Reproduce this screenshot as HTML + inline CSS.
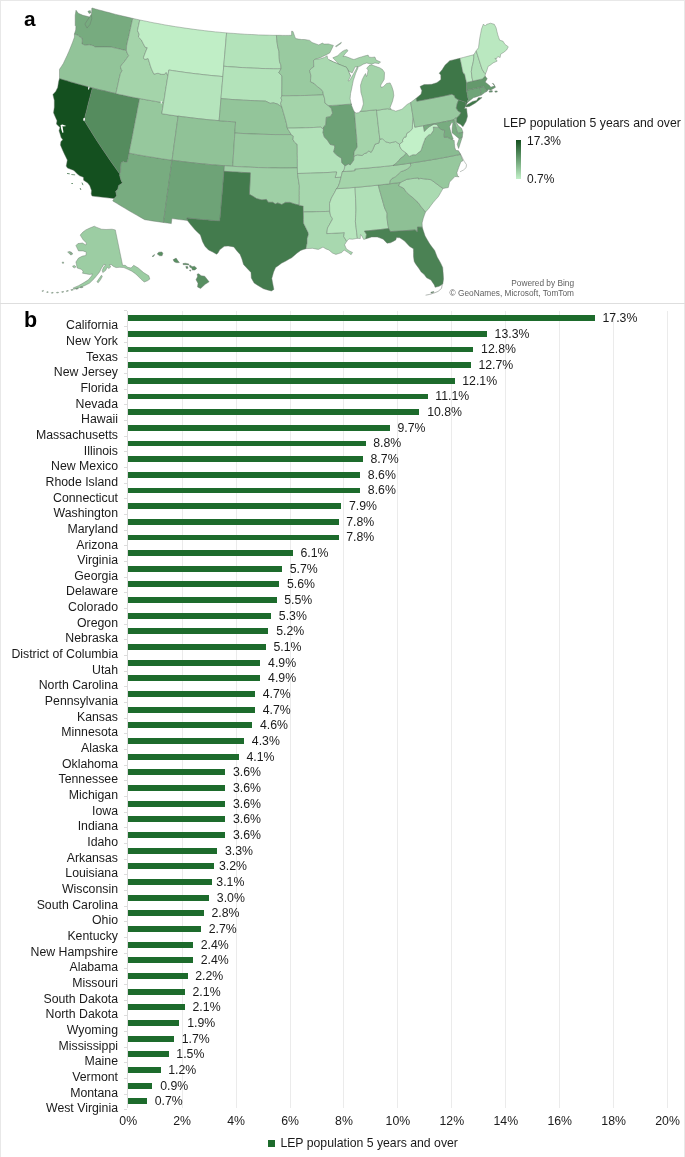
<!DOCTYPE html>
<html><head><meta charset="utf-8"><title>LEP population</title>
<style>
html,body{margin:0;padding:0;background:#fff;}
body{width:685px;height:1157px;position:relative;overflow:hidden;font-family:"Liberation Sans",sans-serif;color:#1a1a1a;}
.frame{position:absolute;left:0;top:0;width:683px;height:1160px;border:1px solid #e8e8e8;border-bottom:none;}
.sep{position:absolute;left:0;top:303px;width:685px;height:1px;background:#dedede;}
.pl{position:absolute;font-weight:bold;font-size:21.5px;line-height:21px;color:#000;}
.grid{position:absolute;top:311px;width:1px;height:797px;background:#ebebeb;}
.axis{position:absolute;top:311px;width:1px;height:797px;background:#dcdcdc;}
.tick{position:absolute;height:1px;width:3px;background:#dcdcdc;}
.bar{position:absolute;height:5.8px;background:#1d6b2c;left:128.2px;}
.lab{position:absolute;right:567px;font-size:12.3px;line-height:14px;white-space:nowrap;text-align:right;}
.val{position:absolute;font-size:12.3px;line-height:14px;white-space:nowrap;}
.xl{position:absolute;top:1114px;font-size:12.3px;line-height:14px;width:40px;margin-left:-20px;text-align:center;}
.leg{position:absolute;font-size:12.25px;line-height:14px;white-space:nowrap;}
</style></head><body>
<div id="wrap" style="position:absolute;left:0;top:0;width:685px;height:1157px;will-change:transform;">
<div class="frame"></div><div class="sep"></div>
<div class="pl" style="left:24px;top:8.0px;font-size:20.8px">a</div>
<div class="pl" style="left:24px;top:310px">b</div>

<svg width="685" height="303" viewBox="0 0 685 303" style="position:absolute;left:0;top:0">
<g stroke="#6b756d" stroke-opacity="0.85" stroke-width="0.5" stroke-linejoin="round">
<path fill="#77ab7f" d="M92.2,8.0 95.5,9.0 98.9,9.9 102.3,10.8 105.6,11.7 109.0,12.6 112.4,13.5 115.8,14.4 119.2,15.2 122.6,16.0 126.0,16.8 129.4,17.6 132.8,18.4 131.7,23.0 130.7,27.6 129.7,32.1 128.7,36.7 127.6,41.3 126.6,45.9 126.4,50.6 123.3,49.9 120.2,49.2 117.2,48.5 114.1,47.8 111.0,47.0 109.0,47.0 106.9,46.9 103.8,46.9 100.6,46.9 96.6,46.9 95.0,47.2 93.7,45.9 91.5,45.3 89.2,44.7 85.1,45.3 81.9,43.8 82.3,41.0 82.0,38.1 79.5,36.8 78.0,35.2 74.4,34.1 75.7,29.9 75.9,26.5 75.2,25.5 75.2,20.4 75.2,15.3 76.0,10.2 78.3,13.3 80.6,14.3 82.9,15.3 84.9,15.8 87.0,16.3 89.5,17.0 90.5,15.3 91.4,14.3 91.7,11.4 91.8,8.2Z"/>
<path fill="#92c499" d="M74.4,34.1 78.0,35.2 79.5,36.8 82.0,38.1 82.3,41.0 81.9,43.8 85.1,45.3 89.2,44.7 91.5,45.3 93.7,45.9 95.0,47.2 96.6,46.9 100.6,46.9 103.8,46.9 106.9,46.9 109.0,47.0 111.0,47.0 114.1,47.8 117.2,48.5 120.2,49.2 123.3,49.9 126.4,50.6 127.2,53.1 128.7,55.7 126.5,58.6 124.5,61.5 122.4,63.8 120.4,66.8 121.2,69.2 122.1,70.6 120.4,73.6 119.2,78.6 118.1,83.6 117.0,88.6 115.9,93.6 112.1,92.7 108.3,91.8 104.5,90.9 100.7,90.0 96.9,89.1 93.2,88.1 89.4,87.1 85.6,86.1 81.9,85.1 78.1,84.1 74.4,83.0 70.7,82.0 66.9,80.9 63.2,79.8 59.5,78.6 59.5,74.0 59.5,69.3 61.4,66.5 63.3,63.6 65.2,59.5 67.1,55.5 68.9,51.4 70.8,46.8 72.6,42.2 74.5,37.0Z"/>
<path fill="#14501f" d="M59.5,78.6 63.1,79.7 66.8,80.8 70.4,81.9 74.1,82.9 77.7,84.0 81.4,85.0 85.1,86.0 88.7,87.0 92.4,87.9 91.0,93.3 89.6,98.7 88.2,104.0 86.9,109.4 85.5,114.8 84.1,120.2 87.1,125.1 90.2,130.1 93.3,135.0 96.4,139.9 99.6,144.8 102.9,149.7 106.2,154.6 109.5,159.4 112.9,164.3 116.3,169.1 119.8,173.9 119.7,175.6 121.1,180.4 122.4,182.9 118.7,185.6 117.7,189.4 115.7,191.2 116.6,195.9 114.1,198.6 109.6,198.1 105.2,197.6 100.8,197.1 96.4,196.6 92.0,196.0 91.2,193.9 91.5,190.6 89.8,185.7 87.7,182.9 83.6,180.2 83.4,177.3 79.6,175.8 77.6,174.2 73.9,170.4 70.7,169.3 67.5,168.1 66.2,166.1 66.8,163.1 67.3,160.1 65.7,156.7 64.1,153.4 62.2,149.2 60.4,144.9 60.9,141.6 62.8,139.8 61.1,137.6 60.1,134.1 59.0,130.7 60.0,127.4 56.4,124.1 57.0,120.8 55.2,116.8 53.5,112.8 54.3,107.3 54.3,103.8 54.3,100.3 52.9,94.6 55.7,91.4 57.7,87.4 58.2,84.3 58.7,81.3Z"/>
<path fill="#558c5e" d="M92.4,87.9 91.0,93.3 89.6,98.7 88.2,104.0 86.9,109.4 85.5,114.8 84.1,120.2 87.1,125.1 90.2,130.1 93.3,135.0 96.4,139.9 99.6,144.8 102.9,149.7 106.2,154.6 109.5,159.4 112.9,164.3 116.3,169.1 119.8,173.9 120.6,172.4 120.7,167.3 121.0,162.8 123.4,161.6 125.0,162.5 127.4,161.8 128.2,157.5 129.1,153.1 130.1,147.6 131.2,142.2 132.3,136.7 133.3,131.3 134.4,125.8 135.4,120.3 136.5,114.9 137.5,109.4 138.6,104.0 139.7,98.5 135.7,97.8 131.7,97.0 127.8,96.2 123.8,95.3 119.9,94.5 115.9,93.6 112.0,92.7 108.1,91.8 104.2,90.8 100.2,89.9 96.3,88.9Z"/>
<path fill="#78ac80" d="M129.1,153.1 128.2,157.5 127.4,161.8 125.0,162.5 123.4,161.6 121.0,162.8 120.7,167.3 120.6,172.4 119.8,173.9 119.7,175.6 121.1,180.4 122.4,182.9 118.7,185.6 117.7,189.4 115.7,191.2 116.6,195.9 114.1,198.6 112.7,200.9 116.7,203.3 120.6,205.7 124.6,208.1 128.6,210.5 132.6,212.8 136.6,215.1 140.7,217.4 144.7,219.7 148.5,220.3 152.2,220.9 156.0,221.4 159.7,222.0 163.4,222.5 164.2,217.3 164.9,212.2 165.6,207.0 166.3,201.8 167.0,196.6 167.7,191.4 168.5,186.2 169.2,181.0 169.9,175.8 170.6,170.6 171.3,165.4 172.1,160.2 167.7,159.6 163.4,159.0 159.1,158.3 154.8,157.6 150.5,156.9 146.2,156.2 141.9,155.5 137.7,154.7 133.4,153.9Z"/>
<path fill="#96c89d" d="M139.7,98.5 143.6,99.3 147.6,100.0 151.6,100.7 155.6,101.4 159.6,102.1 163.6,102.7 162.7,108.2 161.8,113.7 165.9,114.3 170.0,115.0 174.1,115.6 178.1,116.1 177.4,121.6 176.6,127.1 175.9,132.6 175.1,138.2 174.3,143.7 173.6,149.2 172.8,154.7 172.1,160.2 167.7,159.6 163.4,159.0 159.1,158.3 154.8,157.6 150.5,156.9 146.2,156.2 141.9,155.5 137.7,154.7 133.4,153.9 129.1,153.1 130.1,147.6 131.2,142.2 132.3,136.7 133.3,131.3 134.4,125.8 135.4,120.3 136.5,114.9 137.5,109.4 138.6,104.0Z"/>
<path fill="#a4d4aa" d="M132.8,18.4 136.3,19.2 139.8,20.0 138.6,25.3 137.5,30.6 139.2,34.3 138.4,37.0 141.3,39.8 143.2,43.5 145.2,47.3 147.3,47.7 145.2,52.9 143.5,57.6 144.7,59.5 148.1,58.5 149.1,61.5 150.5,66.2 151.6,69.2 153.9,74.1 158.0,73.2 161.4,74.3 164.6,74.3 166.1,72.3 167.9,75.7 167.0,81.1 166.2,86.5 165.3,91.9 164.5,97.3 163.6,102.7 159.6,102.1 155.6,101.4 151.6,100.7 147.6,100.0 143.6,99.3 139.7,98.5 135.7,97.8 131.7,97.0 127.7,96.1 123.8,95.3 119.8,94.5 115.9,93.6 117.0,88.6 118.1,83.6 119.2,78.6 120.4,73.6 122.1,70.6 121.2,69.2 120.4,66.8 122.4,63.8 124.5,61.5 126.5,58.6 128.7,55.7 127.2,53.1 126.4,50.6 126.6,45.9 127.6,41.3 128.7,36.7 129.7,32.1 130.7,27.6 131.7,23.0Z"/>
<path fill="#c0eec6" d="M139.8,20.0 143.4,20.7 146.9,21.4 150.5,22.2 154.1,22.9 157.7,23.5 161.3,24.2 164.9,24.9 168.5,25.5 172.1,26.1 175.7,26.7 179.4,27.2 183.0,27.8 186.6,28.3 190.2,28.8 193.8,29.3 197.5,29.8 201.1,30.2 204.7,30.7 208.4,31.1 212.0,31.5 215.6,31.9 219.3,32.2 222.9,32.6 226.6,32.9 226.1,38.3 225.6,43.7 225.2,49.2 224.7,54.6 224.3,60.1 223.8,65.6 223.3,71.1 222.9,76.6 219.0,76.2 215.1,75.9 211.2,75.5 207.4,75.1 203.5,74.7 199.6,74.2 195.8,73.8 191.9,73.3 188.1,72.8 184.2,72.3 180.4,71.7 176.5,71.2 172.7,70.6 168.8,70.0 168.4,72.9 167.9,75.7 166.1,72.3 164.6,74.3 161.4,74.3 158.0,73.2 153.9,74.1 151.6,69.2 150.5,66.2 149.1,61.5 148.1,58.5 144.7,59.5 143.5,57.6 145.2,52.9 147.3,47.7 145.2,47.3 143.2,43.5 141.3,39.8 138.4,37.0 139.2,34.3 137.5,30.6 138.6,25.3Z"/>
<path fill="#b5e4bc" d="M168.8,70.0 172.7,70.6 176.5,71.2 180.4,71.7 184.2,72.3 188.1,72.8 191.9,73.3 195.8,73.8 199.6,74.2 203.5,74.7 207.4,75.1 211.2,75.5 215.1,75.9 219.0,76.2 222.9,76.6 222.4,82.1 221.9,87.6 221.5,93.1 221.0,98.6 220.5,104.1 220.1,109.6 219.6,115.2 219.1,120.7 215.0,120.3 210.9,120.0 206.8,119.6 202.7,119.1 198.6,118.7 194.5,118.2 190.4,117.7 186.3,117.2 182.2,116.7 178.1,116.1 174.1,115.6 170.0,115.0 165.9,114.3 161.8,113.7 162.7,108.2 163.6,102.7 164.5,97.3 165.3,91.8 166.2,86.3 167.1,80.9 168.0,75.4Z"/>
<path fill="#90c297" d="M178.1,116.1 182.2,116.7 186.3,117.2 190.4,117.7 194.5,118.2 198.6,118.7 202.7,119.1 206.8,119.6 210.9,120.0 215.0,120.3 219.1,120.7 223.2,121.0 227.3,121.4 231.4,121.6 235.6,121.9 235.2,127.5 234.8,133.0 234.5,138.6 234.1,144.1 233.8,149.7 233.4,155.2 233.1,160.8 232.7,166.3 228.4,166.0 224.0,165.7 219.7,165.4 215.3,165.0 211.0,164.6 206.7,164.2 202.3,163.8 198.0,163.4 193.7,162.9 189.3,162.4 185.0,161.9 180.7,161.3 176.4,160.8 172.1,160.2 172.8,154.7 173.6,149.2 174.3,143.7 175.1,138.2 175.9,132.6 176.6,127.1 177.4,121.6Z"/>
<path fill="#6ea377" d="M172.1,160.2 176.1,160.7 180.1,161.3 184.1,161.8 188.1,162.3 192.2,162.7 196.2,163.2 200.2,163.6 204.3,164.0 208.3,164.4 212.3,164.8 216.4,165.1 220.4,165.4 224.5,165.7 224.1,171.3 223.6,176.8 223.1,182.4 222.7,187.9 222.2,193.4 221.7,199.0 221.2,204.5 220.8,210.0 220.3,215.5 219.8,221.1 215.7,220.7 211.6,220.4 207.5,220.0 203.3,219.7 199.2,219.3 195.1,218.9 191.0,218.4 186.9,218.0 187.4,220.5 183.6,220.0 179.7,219.6 175.8,219.1 171.9,218.6 171.3,223.6 167.4,223.0 163.4,222.5 164.2,217.3 164.9,212.2 165.6,207.0 166.3,201.8 167.0,196.6 167.7,191.4 168.5,186.2 169.2,181.0 169.9,175.8 170.6,170.6 171.3,165.4Z"/>
<path fill="#b3e3ba" d="M226.6,32.9 230.1,33.2 233.7,33.4 237.2,33.7 240.8,33.9 244.3,34.2 247.9,34.4 251.5,34.5 255.0,34.7 258.6,34.9 262.1,35.0 265.7,35.1 269.3,35.2 272.8,35.3 276.4,35.3 276.9,40.8 277.6,46.2 279.0,51.7 279.2,57.2 279.5,61.6 280.8,64.9 281.1,68.8 277.3,68.8 273.4,68.8 269.6,68.7 265.8,68.6 262.0,68.5 258.1,68.3 254.3,68.2 250.5,68.0 246.7,67.8 242.8,67.6 239.0,67.4 235.2,67.1 231.4,66.9 227.6,66.6 223.7,66.2 224.1,61.5 224.5,56.7 225.0,51.9 225.4,47.1 225.8,42.4 226.2,37.6Z"/>
<path fill="#b3e3ba" d="M223.7,66.2 227.6,66.6 231.4,66.9 235.2,67.1 239.0,67.4 242.8,67.6 246.7,67.8 250.5,68.0 254.3,68.2 258.1,68.3 262.0,68.5 265.8,68.6 269.6,68.7 273.4,68.8 277.3,68.8 281.1,68.8 278.8,72.6 281.9,75.9 281.9,80.9 281.9,85.8 281.8,90.8 281.8,95.8 281.0,98.0 281.8,100.2 280.6,103.5 281.8,107.0 279.6,105.5 277.4,104.0 273.4,102.9 270.1,103.4 267.8,102.2 265.4,101.1 261.7,101.0 258.0,100.8 254.3,100.7 250.6,100.5 246.9,100.3 243.2,100.2 239.5,99.9 235.8,99.7 232.1,99.5 228.4,99.2 224.7,98.9 221.0,98.6 221.4,93.2 221.9,87.8 222.4,82.4 222.8,77.0 223.3,71.6Z"/>
<path fill="#93c59a" d="M221.0,98.6 224.7,98.9 228.4,99.2 232.1,99.5 235.8,99.7 239.5,99.9 243.2,100.2 246.9,100.3 250.6,100.5 254.3,100.7 258.0,100.8 261.7,101.0 265.4,101.1 267.8,102.2 270.1,103.4 273.4,102.9 277.4,104.0 279.6,105.5 281.8,107.0 283.4,112.4 285.0,118.0 286.5,123.5 287.3,128.2 289.6,131.8 291.2,134.6 287.1,134.6 283.1,134.6 279.1,134.6 275.1,134.6 271.0,134.5 267.0,134.4 263.0,134.3 259.0,134.2 254.9,134.0 250.9,133.9 246.9,133.7 242.9,133.5 238.9,133.3 234.8,133.0 235.2,127.5 235.6,121.9 231.4,121.6 227.3,121.4 223.2,121.0 219.1,120.7 219.6,115.2 220.1,109.6 220.5,104.1Z"/>
<path fill="#98c99f" d="M234.8,133.0 238.9,133.3 242.9,133.5 246.9,133.7 250.9,133.9 254.9,134.0 259.0,134.2 263.0,134.3 267.0,134.4 271.0,134.5 275.1,134.6 279.1,134.6 283.1,134.6 287.1,134.6 291.2,134.6 293.4,136.2 293.0,139.6 294.7,142.3 297.2,144.3 297.3,149.0 297.3,153.7 297.4,158.5 297.4,163.2 297.4,167.9 293.1,167.9 288.8,168.0 284.5,168.0 280.2,168.0 275.8,167.9 271.5,167.9 267.2,167.8 262.9,167.7 258.6,167.5 254.3,167.4 250.0,167.2 245.7,167.0 241.3,166.8 237.0,166.6 232.7,166.3 233.1,160.8 233.4,155.2 233.8,149.7 234.1,144.1 234.5,138.6Z"/>
<path fill="#9ecfa5" d="M224.5,165.7 228.8,166.0 233.0,166.3 237.3,166.6 241.6,166.8 245.9,167.0 250.2,167.2 254.5,167.4 258.8,167.6 263.1,167.7 267.4,167.8 271.7,167.9 275.9,167.9 280.2,168.0 284.5,168.0 288.8,168.0 293.1,167.9 297.4,167.9 297.5,173.5 298.1,177.5 298.7,181.6 299.4,185.7 299.3,190.5 299.3,195.4 299.3,200.3 299.2,205.2 296.9,204.6 294.5,204.0 289.9,202.4 285.4,202.4 281.8,204.6 277.7,202.9 275.4,204.0 272.7,202.3 268.2,202.3 266.4,199.4 261.9,199.9 259.2,199.3 256.5,198.6 252.9,196.3 249.4,194.3 249.6,189.0 249.9,183.6 250.1,178.2 250.3,172.8 245.9,172.6 241.6,172.4 237.2,172.1 232.8,171.9 228.4,171.6 224.1,171.3Z"/>
<path fill="#437b4d" d="M224.1,171.3 228.4,171.6 232.8,171.9 237.2,172.1 241.6,172.4 245.9,172.6 250.3,172.8 250.1,178.2 249.9,183.6 249.6,189.0 249.4,194.3 252.9,196.3 256.5,198.6 259.2,199.3 261.9,199.9 266.4,199.4 268.2,202.3 272.7,202.3 275.4,204.0 277.7,202.9 281.8,204.6 285.4,202.4 289.9,202.4 294.5,204.0 296.9,204.6 299.2,205.2 303.3,206.1 303.3,209.1 303.4,212.0 303.5,215.8 303.5,219.5 303.6,223.3 305.8,227.7 307.9,232.1 308.5,234.2 307.2,238.7 307.1,243.1 306.0,248.7 303.3,249.5 300.7,250.4 296.9,253.2 294.3,255.5 291.7,257.7 288.8,259.3 285.9,261.0 281.5,263.2 278.6,265.4 275.6,267.5 273.6,271.9 272.7,275.2 271.8,278.4 272.4,281.7 273.0,285.0 273.9,289.4 271.4,291.0 267.4,289.9 263.4,288.7 260.5,287.0 257.5,285.2 254.1,283.0 251.3,277.9 251.0,272.4 247.7,269.0 243.5,264.4 241.9,258.9 240.1,254.4 237.4,251.5 233.8,246.9 231.0,246.4 228.1,246.0 224.3,246.3 219.7,249.8 218.0,253.0 216.5,254.2 212.8,252.1 208.6,250.1 205.1,246.4 202.6,241.8 201.5,238.4 200.4,234.9 197.8,232.5 195.2,230.0 191.0,225.1 187.4,220.5 186.9,218.0 191.0,218.4 195.1,218.9 199.2,219.3 203.3,219.7 207.5,220.0 211.6,220.4 215.7,220.7 219.8,221.1 220.3,215.5 220.8,210.0 221.2,204.5 221.7,199.0 222.2,193.4 222.7,187.9 223.1,182.4 223.6,176.8Z"/>
<path fill="#99caa0" d="M276.4,35.3 276.9,40.8 277.6,46.2 279.0,51.7 279.2,57.2 279.5,61.6 280.8,64.9 281.1,68.8 278.8,72.6 281.9,75.9 281.9,80.9 281.9,85.8 281.8,90.8 281.8,95.8 285.6,95.8 289.4,95.8 293.2,95.7 296.9,95.7 300.7,95.6 304.5,95.5 308.3,95.4 312.1,95.3 315.8,95.2 319.6,95.0 323.4,94.8 322.8,91.5 321.3,89.4 317.6,86.8 314.4,83.6 310.4,81.6 310.7,78.5 310.9,75.5 309.6,70.5 311.5,68.3 313.8,66.9 313.7,63.7 313.5,60.5 314.9,59.4 317.7,58.5 320.4,57.7 322.7,56.5 325.0,55.4 327.4,54.2 329.7,53.0 331.5,49.5 333.4,45.4 330.9,44.7 328.4,43.9 326.2,44.0 324.0,44.1 322.4,43.1 318.8,44.9 315.4,43.7 312.0,42.5 309.7,40.4 307.1,39.9 304.5,39.5 301.6,39.5 298.6,39.1 295.7,38.6 294.9,36.9 293.0,31.5 291.6,31.2 291.6,35.3 288.6,35.4 285.5,35.4 282.5,35.4 279.4,35.3Z"/>
<path fill="#a4d4aa" d="M281.8,95.8 285.6,95.8 289.4,95.8 293.2,95.7 296.9,95.7 300.7,95.6 304.5,95.5 308.3,95.4 312.1,95.3 315.8,95.2 319.6,95.0 323.4,94.8 324.5,98.1 325.0,103.1 328.5,105.6 331.6,108.8 332.6,113.2 330.4,116.7 326.3,117.4 326.1,120.8 325.9,124.7 323.5,127.0 323.5,129.5 320.8,127.2 317.1,127.3 313.4,127.5 309.6,127.7 305.9,127.8 302.2,127.9 298.5,128.0 294.8,128.1 291.0,128.1 287.3,128.2 286.5,123.5 285.0,118.0 283.4,112.4 281.8,107.0 280.6,103.5 281.8,100.2 281.0,98.0Z"/>
<path fill="#b2e2b9" d="M287.3,128.2 291.0,128.1 294.8,128.1 298.5,128.0 302.2,127.9 305.9,127.8 309.6,127.7 313.4,127.5 317.1,127.3 320.8,127.2 323.5,129.5 323.0,132.6 324.4,137.0 327.5,140.2 330.3,144.5 334.6,145.3 334.7,147.6 333.7,152.1 336.9,155.2 341.5,158.3 341.8,162.7 345.0,165.8 344.0,170.4 342.4,171.6 341.0,177.3 338.0,177.4 335.1,177.6 336.7,172.0 332.3,172.2 328.0,172.5 323.6,172.7 319.3,172.9 314.9,173.0 310.6,173.2 306.2,173.3 301.9,173.4 297.5,173.5 297.4,167.9 297.4,163.2 297.4,158.5 297.3,153.7 297.3,149.0 297.2,144.3 294.7,142.3 293.0,139.6 293.4,136.2 291.2,134.6 289.6,131.8Z"/>
<path fill="#a7d7ae" d="M297.5,173.5 301.9,173.4 306.2,173.3 310.6,173.2 314.9,173.0 319.3,172.9 323.6,172.7 328.0,172.5 332.3,172.2 336.7,172.0 335.1,177.6 338.0,177.4 341.0,177.3 339.6,182.9 338.0,186.9 336.4,188.7 334.8,192.1 331.5,197.9 329.5,203.5 329.7,208.0 329.7,211.3 325.3,211.5 320.9,211.6 316.6,211.7 312.2,211.9 307.8,211.9 303.4,212.0 303.3,209.1 303.3,206.1 299.2,205.2 299.3,200.3 299.3,195.4 299.3,190.5 299.4,185.7 298.7,181.6 298.1,177.5Z"/>
<path fill="#a8d8af" d="M303.4,212.0 307.8,211.9 312.2,211.9 316.6,211.7 320.9,211.6 325.3,211.5 329.7,211.3 330.6,215.7 332.6,218.9 330.1,223.5 327.5,228.0 326.8,233.6 331.2,233.4 335.6,233.1 340.0,232.9 344.4,232.6 343.7,236.5 346.7,241.3 344.6,244.8 346.4,248.9 349.9,251.2 352.5,252.4 351.1,254.7 348.1,252.6 344.1,250.0 341.7,252.6 338.8,253.5 335.9,254.4 332.4,253.0 328.9,250.0 325.9,248.9 323.0,247.1 318.4,249.4 315.4,248.9 312.5,248.3 309.3,248.5 306.1,248.6 306.0,248.7 307.1,243.1 307.2,238.7 308.5,234.2 307.9,232.1 305.8,227.7 303.6,223.3 303.5,219.5 303.5,215.8Z"/>
<path fill="#b8e6be" d="M336.4,188.7 340.1,188.5 343.9,188.2 347.6,187.9 351.4,187.7 355.1,187.4 355.3,192.9 355.6,198.5 355.8,204.0 356.0,209.5 355.8,213.6 355.6,217.7 355.4,221.8 356.1,227.3 356.7,232.8 357.4,238.3 352.7,239.2 348.9,238.9 346.7,241.3 343.7,236.5 344.4,232.6 340.0,232.9 335.6,233.1 331.2,233.4 326.8,233.6 327.5,228.0 330.1,223.5 332.6,218.9 330.6,215.7 329.7,211.3 329.7,208.0 329.5,203.5 331.5,197.9 334.8,192.1Z"/>
<path fill="#b0e0b7" d="M355.1,187.4 359.0,187.0 362.8,186.7 366.7,186.3 370.5,185.9 374.4,185.5 378.3,185.1 379.5,189.8 380.8,194.4 382.1,199.0 383.4,203.6 384.7,208.2 387.1,213.2 387.0,217.6 387.6,223.1 388.7,228.6 384.7,229.0 380.6,229.5 376.5,229.9 372.5,230.3 368.4,230.7 364.4,231.1 366.5,234.2 365.8,238.9 363.7,239.4 361.4,235.2 360.4,234.7 360.3,238.6 357.4,238.3 356.7,232.8 356.1,227.3 355.4,221.8 355.6,217.7 355.8,213.6 356.0,209.5 355.8,204.0 355.6,198.5 355.3,192.9Z"/>
<path fill="#8ec095" d="M378.3,185.1 379.5,189.8 380.8,194.4 382.1,199.0 383.4,203.6 384.7,208.2 387.1,213.2 387.0,217.6 387.6,223.1 388.7,228.6 390.4,231.6 394.5,231.3 398.7,231.1 402.9,230.8 407.0,230.5 411.2,230.2 415.3,229.9 417.3,231.9 417.5,227.0 422.3,227.2 422.1,222.9 423.3,218.3 424.4,215.1 425.6,212.0 421.6,207.3 418.0,202.3 413.0,197.8 409.9,195.2 406.9,192.7 403.5,188.1 398.6,185.7 400.5,182.4 396.0,183.0 391.6,183.6 387.1,184.1 382.7,184.6Z"/>
<path fill="#4b8254" d="M365.8,238.9 366.5,234.2 364.4,231.1 368.4,230.7 372.5,230.3 376.5,229.9 380.6,229.5 384.7,229.0 388.7,228.6 390.4,231.6 394.5,231.3 398.7,231.1 402.9,230.8 407.0,230.5 411.2,230.2 415.3,229.9 417.3,231.9 417.5,227.0 422.3,227.2 423.3,230.6 425.1,235.9 427.4,240.0 429.8,244.0 432.2,247.3 434.7,250.5 436.0,253.9 437.3,257.3 439.1,260.3 440.8,263.4 442.7,267.5 443.0,271.3 443.3,275.1 443.5,279.0 442.8,284.1 439.1,286.3 435.1,287.3 434.3,284.9 430.9,279.9 426.6,277.8 424.0,274.3 421.2,272.0 419.3,269.0 415.6,263.9 414.2,261.4 413.5,256.5 413.5,252.6 413.4,248.7 409.7,246.5 407.1,243.8 404.6,241.0 399.8,237.8 396.5,237.6 395.8,239.9 393.1,241.4 390.4,242.8 387.0,243.2 383.2,239.2 380.3,238.1 377.3,237.0 374.4,237.0 371.6,237.0 368.8,237.9 366.0,238.7Z"/>
<path fill="#aadab1" d="M400.5,182.4 403.6,180.8 406.8,179.3 410.6,178.8 414.5,178.3 418.3,177.9 418.7,179.1 420.2,178.3 423.8,178.8 427.4,179.2 431.0,179.7 435.0,182.6 439.0,185.6 443.0,188.5 440.7,192.6 438.4,196.6 435.7,199.6 433.0,202.7 430.9,205.5 428.8,208.4 425.6,212.0 421.6,207.3 418.0,202.3 413.0,197.8 409.9,195.2 406.9,192.7 403.5,188.1 398.6,185.7Z"/>
<path fill="#96c89d" d="M410.4,163.1 414.6,162.5 418.8,161.9 423.0,161.2 427.1,160.5 431.3,159.8 435.5,159.1 439.7,158.4 443.9,157.6 448.0,156.8 452.2,156.0 456.4,155.2 460.5,154.4 461.9,158.0 463.0,160.7 460.9,161.7 458.6,167.8 456.9,172.7 457.6,176.0 459.1,176.8 454.9,176.5 452.3,179.3 449.6,182.1 448.3,187.5 445.6,188.0 443.0,188.5 439.0,185.6 435.0,182.6 431.0,179.7 427.4,179.2 423.8,178.8 420.2,178.3 418.7,179.1 418.3,177.9 414.5,178.3 410.6,178.8 406.8,179.3 403.6,180.8 400.5,182.4 396.8,182.9 393.2,183.3 389.6,183.8 389.9,181.0 391.8,178.5 395.2,176.9 398.0,174.3 400.8,171.7 403.3,170.8 407.5,169.0 410.6,165.8Z"/>
<path fill="#a4d4aa" d="M342.4,171.6 346.6,171.3 350.8,171.0 355.0,170.6 354.7,169.0 359.0,168.7 363.3,168.3 367.5,168.0 371.8,167.6 376.0,167.2 380.3,166.8 384.5,166.4 388.8,165.9 393.0,165.4 397.4,164.9 401.7,164.3 406.0,163.7 410.4,163.1 410.6,165.8 407.5,169.0 403.3,170.8 400.8,171.7 398.0,174.3 395.2,176.9 391.8,178.5 389.9,181.0 389.6,183.8 385.2,184.3 380.8,184.8 376.3,185.3 371.9,185.8 367.5,186.2 363.0,186.7 358.6,187.1 354.2,187.4 349.7,187.8 345.3,188.1 340.8,188.4 336.4,188.7 338.0,186.9 339.6,182.9 341.0,177.3Z"/>
<path fill="#adddb4" d="M393.0,165.4 388.8,165.9 384.5,166.4 380.3,166.8 376.0,167.2 371.8,167.6 367.5,168.0 363.3,168.3 359.0,168.7 354.7,169.0 355.0,170.6 350.8,171.0 346.6,171.3 342.4,171.6 344.0,170.4 345.0,165.8 348.4,163.9 350.2,164.9 353.7,160.1 353.8,156.2 357.6,154.8 362.0,155.5 364.4,153.6 366.9,152.8 368.5,150.9 371.2,152.3 373.0,149.1 375.0,144.1 378.8,143.1 379.8,139.1 382.5,138.7 385.5,141.7 389.9,142.9 392.8,142.2 395.7,141.5 397.6,142.9 399.5,144.1 399.9,146.6 401.6,149.7 406.3,153.0 403.9,156.1 400.7,158.2 397.7,162.0 395.4,163.8 393.0,165.6Z"/>
<path fill="#89bc91" d="M393.0,165.6 395.4,163.8 397.7,162.0 400.7,158.2 403.9,156.1 406.3,153.0 409.2,156.4 412.9,154.7 416.0,154.8 419.0,152.1 421.0,150.6 422.7,145.2 424.5,140.4 425.4,138.0 429.1,134.5 430.4,134.8 433.5,130.3 433.3,127.0 436.0,127.2 438.7,127.4 441.0,129.4 444.7,130.4 444.2,134.5 444.3,137.3 447.4,137.2 452.3,139.6 454.2,140.4 454.4,143.7 454.8,147.6 455.8,150.3 458.6,150.8 460.5,154.4 456.4,155.2 452.2,156.0 448.0,156.8 443.9,157.6 439.7,158.4 435.5,159.1 431.3,159.8 427.1,160.5 423.0,161.2 418.8,161.9 414.6,162.5 410.4,163.1 406.0,163.8 401.7,164.4 397.4,165.0ZM459.1,138.7 462.3,137.1 461.2,140.4 460.2,143.6 458.6,148.5 457.2,144.3Z"/>
<path fill="#c2f0c8" d="M406.3,153.0 401.6,149.7 399.9,146.6 399.5,144.1 402.8,141.6 402.4,140.0 404.5,136.9 405.8,137.2 406.9,133.1 409.7,131.6 412.2,128.9 412.5,124.4 412.7,119.8 413.1,117.1 413.9,122.1 414.8,127.2 417.6,126.7 420.5,126.2 423.4,125.7 423.9,128.6 424.4,131.4 427.5,128.0 429.7,126.5 432.4,124.9 434.0,124.0 436.7,124.6 437.7,125.6 438.7,127.4 436.0,127.2 433.3,127.0 433.5,130.3 430.4,134.8 429.1,134.5 425.4,138.0 424.5,140.4 422.7,145.2 421.0,150.6 419.0,152.1 416.0,154.8 412.9,154.7 409.2,156.4Z"/>
<path fill="#6da276" d="M328.5,105.6 332.4,105.4 336.2,105.2 340.0,104.9 343.8,104.6 347.7,104.3 351.5,104.0 351.3,104.7 353.3,109.7 354.5,112.0 354.9,117.3 355.4,122.7 355.8,128.0 356.3,133.3 356.8,138.7 356.9,142.6 357.3,147.0 354.3,151.7 353.8,156.2 353.7,160.1 350.2,164.9 348.4,163.9 345.0,165.8 341.8,162.7 341.5,158.3 336.9,155.2 333.7,152.1 334.7,147.6 334.6,145.3 330.3,144.5 327.5,140.2 324.4,137.0 323.0,132.6 323.5,129.5 323.5,127.0 325.9,124.7 326.1,120.8 326.3,117.4 330.4,116.7 332.6,113.2 331.6,108.8Z"/>
<path fill="#a4d4aa" d="M354.5,112.0 356.2,113.0 358.5,112.7 360.2,111.5 363.4,111.1 366.7,110.8 369.9,110.4 373.2,110.1 376.5,109.7 377.0,114.6 377.6,119.5 378.1,124.4 378.7,129.3 379.3,134.2 379.8,139.1 378.8,143.1 375.0,144.1 373.0,149.1 371.2,152.3 368.5,150.9 366.9,152.8 364.4,153.6 362.0,155.5 357.6,154.8 353.8,156.2 354.3,151.7 357.3,147.0 356.9,142.6 356.8,138.7 356.3,133.3 355.8,128.0 355.4,122.7 354.9,117.3Z"/>
<path fill="#acdcb3" d="M376.5,110.4 380.2,109.8 383.8,109.2 387.5,108.7 390.7,109.5 393.9,110.4 395.7,111.2 398.9,110.2 402.0,109.2 404.6,106.8 407.1,104.5 410.7,102.4 411.5,107.3 412.3,112.2 413.1,117.1 412.7,119.8 412.5,124.4 412.2,128.9 409.7,131.6 406.9,133.1 405.8,137.2 404.5,136.9 402.4,140.0 402.8,141.6 399.5,144.1 397.6,142.9 395.7,141.5 392.8,142.2 389.9,142.9 385.5,141.7 382.5,138.7 379.8,139.1 379.3,134.3 378.7,129.5 378.2,124.7 377.6,119.9 377.1,115.1Z"/>
<path fill="#a4d4aa" d="M371.4,64.8 373.4,65.5 375.5,66.3 377.5,67.0 379.6,67.7 382.5,69.5 384.5,72.4 384.4,75.9 384.2,79.4 382.5,82.3 380.7,85.2 381.3,87.6 383.6,86.4 386.6,83.5 390.1,82.9 391.8,86.4 393.3,91.1 393.8,95.7 392.6,101.0 391.4,104.2 390.1,107.4 391.2,109.4 387.5,108.7 383.8,109.2 380.2,109.8 376.5,110.4 376.5,109.7 373.2,110.1 369.9,110.4 366.7,110.8 363.4,111.1 360.2,111.5 361.5,109.7 362.5,106.8 363.4,103.9 363.0,101.0 362.6,98.1 361.7,95.1 360.9,92.2 360.7,88.7 360.5,85.2 361.4,82.3 362.3,79.4 364.4,75.3 365.6,73.5 366.5,76.5 367.3,74.7 368.1,70.0 366.7,68.3 369.1,65.6ZM328.8,59.8 331.1,60.8 333.4,61.9 336.1,63.0 338.7,64.2 342.2,65.6 344.2,66.4 346.3,67.1 348.0,70.0 349.2,73.0 350.6,76.1 347.0,72.5 343.4,68.8 339.8,65.2 336.3,61.5 332.8,57.8 335.2,56.8 337.5,55.8 339.6,53.9 341.6,51.9 344.5,50.2 347.1,49.6 348.0,50.8 345.1,53.7 343.1,56.6 345.1,56.3 347.2,57.0 349.2,57.8 351.5,58.7 353.9,59.5 356.2,58.7 358.5,57.8 361.5,56.9 364.4,56.0 366.2,55.6 368.1,55.1 369.1,57.2 372.0,57.4 374.9,57.0 376.1,60.1 378.3,61.0 380.5,61.9 379.0,63.6 376.9,63.3 374.9,63.0 371.4,64.2 369.0,63.6 366.7,63.0 363.2,64.2 360.3,66.0 357.4,67.1 355.0,66.8 353.9,69.5 352.1,73.0 348.2,70.8 344.2,68.6 340.3,66.4 336.4,64.2 332.6,62.0Z"/>
<path fill="#a9d9b0" d="M314.9,59.4 317.7,59.1 320.4,58.7 322.4,58.1 324.5,57.4 327.1,55.7 327.6,58.3 328.8,59.8 331.1,60.8 333.4,61.9 336.1,63.0 338.7,64.2 342.2,65.6 344.2,66.4 346.3,67.1 348.0,70.0 349.2,73.0 350.6,76.1 348.6,80.0 348.0,80.9 349.4,80.8 352.3,76.0 355.0,71.2 357.6,66.5 358.0,67.9 355.6,73.5 354.5,77.0 353.3,80.5 352.7,83.5 352.1,86.4 351.4,89.9 350.6,93.4 350.1,98.7 350.7,101.7 351.3,104.7 351.5,104.0 347.7,104.3 343.8,104.6 340.0,104.9 336.2,105.2 332.4,105.4 328.5,105.6 325.0,103.1 324.5,98.1 323.4,94.8 322.8,91.5 321.3,89.4 317.6,86.8 314.4,83.6 310.4,81.6 310.7,78.5 310.9,75.5 309.6,70.5 311.5,68.3 313.8,66.9 313.7,63.7 313.5,60.5Z"/>
<path fill="#98c99f" d="M410.7,102.4 413.5,100.3 416.2,98.2 416.8,101.2 420.7,100.5 424.6,99.8 428.5,99.0 432.4,98.3 436.3,97.5 440.2,96.7 444.1,95.9 448.0,95.1 451.9,94.2 454.3,95.4 455.3,98.0 458.7,100.0 457.3,103.3 456.7,106.3 456.2,108.1 458.2,111.1 461.1,112.7 459.2,115.4 457.1,117.6 456.6,118.2 455.0,118.1 453.8,119.8 449.9,120.6 446.0,121.4 442.1,122.2 438.2,123.0 434.3,123.7 430.4,124.4 426.5,125.2 422.6,125.8 418.7,126.5 414.8,127.2 414.0,122.2 413.1,117.3 412.3,112.3 411.5,107.4Z"/>
<path fill="#3e7748" d="M416.2,98.2 418.6,96.2 421.0,94.2 421.9,90.7 420.0,86.5 422.0,85.6 424.1,84.6 427.9,84.5 431.7,84.3 434.2,83.5 436.7,82.7 438.8,81.2 440.9,79.6 440.8,75.1 439.2,73.2 442.1,69.8 445.1,65.1 447.4,62.9 449.7,60.7 453.1,59.9 456.6,59.1 460.0,58.3 461.2,63.7 462.1,68.3 463.1,72.9 464.5,73.7 465.5,78.1 466.5,82.4 466.5,86.4 466.5,90.3 467.3,94.4 468.0,98.5 468.8,99.5 467.3,101.0 468.0,101.9 467.0,103.3 465.8,105.9 466.0,102.4 462.3,101.2 458.7,100.0 455.3,98.0 454.3,95.4 451.9,94.2 448.0,95.1 444.1,95.9 440.2,96.7 436.3,97.5 432.4,98.3 428.5,99.0 424.6,99.8 420.7,100.5 416.8,101.2ZM465.9,107.0 469.5,106.4 472.5,104.7 475.4,103.0 478.8,100.3 482.1,97.6 478.4,97.7 476.5,100.4 472.5,101.4 470.1,102.9 467.7,104.3 465.9,105.9Z"/>
<path fill="#447c4e" d="M458.7,100.0 462.3,101.2 466.0,102.4 465.8,105.9 464.4,108.5 466.6,108.6 467.0,112.4 467.5,116.3 466.1,121.2 463.0,126.7 460.3,124.3 456.4,122.3 456.6,118.2 457.1,117.6 459.2,115.4 461.1,112.7 458.2,111.1 456.2,108.1 456.7,106.3 457.3,103.3Z"/>
<path fill="#8fc196" d="M456.6,118.2 455.0,118.1 453.8,119.8 455.0,124.3 456.3,128.9 457.5,133.4 460.2,132.8 462.9,132.2 461.7,128.5 458.4,125.8 456.1,122.3Z"/>
<path fill="#78ac80" d="M423.4,125.7 427.2,125.0 431.0,124.3 434.8,123.6 438.6,122.9 442.4,122.1 446.2,121.4 450.0,120.6 453.8,119.8 455.0,124.3 456.3,128.9 457.5,133.4 460.2,132.8 462.9,132.2 462.3,137.1 459.1,138.7 455.9,136.0 452.1,132.8 452.1,128.3 452.8,123.6 452.0,122.1 449.5,126.6 450.1,129.3 450.9,132.2 451.8,135.2 453.2,138.9 452.3,139.6 447.4,137.2 444.3,137.3 444.2,134.5 444.7,130.4 441.0,129.4 438.7,127.4 437.7,125.6 436.7,124.6 434.0,124.0 432.4,124.9 429.7,126.5 427.5,128.0 424.4,131.4 423.9,128.6Z"/>
<path fill="#6fa478" d="M466.5,90.3 469.9,89.5 473.2,88.8 476.5,88.0 479.9,87.2 480.7,91.2 481.4,95.1 478.7,96.0 476.0,96.9 473.3,97.8 470.6,99.9 468.0,101.9 467.3,101.0 468.8,99.5 468.0,98.5 467.3,94.4Z"/>
<path fill="#6fa478" d="M479.9,87.3 483.2,86.5 485.9,89.4 486.7,91.5 484.7,92.6 481.4,95.1 480.7,91.2Z"/>
<path fill="#64996c" d="M466.5,82.4 469.7,81.7 472.8,81.0 476.0,80.3 479.1,79.6 482.3,78.9 485.1,76.0 487.2,78.7 485.2,82.1 489.5,85.5 490.9,87.2 494.7,85.8 492.3,83.4 493.7,83.8 495.5,87.3 493.0,88.8 490.4,90.2 488.8,89.2 486.7,91.5 485.9,89.4 483.2,86.5 479.9,87.3 476.6,88.1 473.2,88.8 469.9,89.6 466.5,90.3 466.5,86.4Z"/>
<path fill="#bdebc3" d="M460.0,58.3 461.2,63.7 462.1,68.3 463.1,72.9 464.5,73.7 465.5,78.1 466.5,82.4 469.7,81.7 472.8,81.0 471.9,77.0 471.3,71.4 472.1,66.7 473.3,61.8 473.8,57.7 473.8,54.7 470.4,55.6 466.9,56.5 463.5,57.4Z"/>
<path fill="#b0e0b7" d="M473.8,54.7 473.8,57.7 473.3,61.8 472.1,66.7 471.3,71.4 471.9,77.0 472.8,81.0 476.0,80.3 479.1,79.6 482.3,78.9 485.1,76.0 485.5,73.8 483.8,72.1 482.0,69.0 480.5,64.4 479.1,59.9 477.6,55.3 476.2,50.8Z"/>
<path fill="#bae8c0" d="M476.2,50.8 477.6,55.3 479.1,59.9 480.5,64.4 482.0,69.0 483.8,72.1 485.5,73.8 486.7,71.1 488.1,66.4 490.2,65.2 493.1,62.9 495.2,62.0 497.2,61.1 494.9,58.2 496.3,59.1 497.8,56.5 500.1,57.6 500.7,54.1 503.6,52.4 506.6,50.0 508.3,46.8 504.8,44.2 503.1,41.3 499.6,40.1 498.7,37.5 497.8,34.9 496.9,31.3 496.1,27.8 494.3,24.3 490.5,23.2 488.6,23.8 486.7,24.3 485.3,26.0 483.4,24.1 481.5,29.0 480.6,33.7 479.7,38.4 479.1,43.0 478.5,47.7Z"/>
<path fill="#9ccda3" d="M80.2,235.1 82.9,232.1 85.8,229.9 89.7,228.1 94.3,226.2 96.3,227.2 98.2,227.9 101.5,229.2 106.1,229.5 112.0,229.2 115.3,229.9 122.6,265.3 125.2,265.3 127.8,267.3 131.1,268.0 133.7,265.3 138.3,268.0 143.6,272.6 148.8,275.8 149.8,279.1 147.5,280.7 144.2,282.0 140.9,279.1 135.7,273.9 131.8,271.2 127.8,269.3 123.9,267.6 119.9,267.3 116.0,267.6 112.7,266.0 111.8,264.7 109.4,264.7 110.7,267.0 108.8,268.6 107.4,267.3 105.5,270.6 102.8,272.6 102.2,270.6 103.5,267.3 105.7,264.7 103.9,264.4 101.5,268.0 99.6,271.9 97.6,274.5 94.3,278.5 89.7,283.1 84.5,285.7 79.2,287.7 73.9,289.2 73.2,287.9 78.5,285.7 83.1,283.1 88.4,279.8 91.7,275.8 92.3,273.9 89.7,274.5 86.4,273.9 82.5,273.2 83.1,271.2 81.2,269.3 77.2,268.0 75.9,262.0 78.5,258.1 82.5,256.1 85.8,255.5 86.4,252.2 83.1,250.9 78.5,250.9 75.9,245.6 77.9,243.6 82.5,243.0 85.8,245.0 86.4,243.0 83.1,239.7ZM96.9,281.8 99.6,277.8 101.5,275.2 102.3,276.5 100.5,279.8 98.2,282.8ZM72.6,266.0 74.6,265.5 76.0,266.8 74.7,267.8 73.2,267.3ZM70.0,251.9 71.6,252.3 72.8,253.9 71.6,254.7 70.0,253.6ZM80.2,287.1 82.5,286.7 83.0,287.4 80.7,287.9ZM75.5,288.6 77.9,288.1 78.3,288.8 76.0,289.3ZM70.8,289.7 72.9,289.3 73.4,290.0 71.3,290.4ZM66.2,290.9 68.0,290.4 68.5,291.0 66.6,291.5ZM61.5,291.8 63.4,291.4 63.8,291.9 62.0,292.4ZM56.4,292.5 58.2,292.1 58.7,292.6 56.8,293.1ZM51.2,292.8 52.9,292.3 53.3,292.9 51.7,293.3ZM46.5,292.1 47.9,291.6 48.4,292.2 47.0,292.6ZM41.9,290.9 43.3,290.4 43.7,291.0 42.3,291.5ZM67.6,251.9 69.9,251.4 72.0,253.7 70.4,254.7ZM62.2,262.1 63.6,262.1 63.6,263.3 62.4,263.3Z"/>
<path fill="#588f61" d="M152.2,256.2 154.6,254.4 154.1,255.7 152.9,256.9ZM157.2,254.0 158.7,252.2 161.8,251.9 162.9,253.2 162.1,255.7 159.7,255.8ZM173.0,259.8 176.1,258.1 177.6,260.3 179.4,262.6 176.8,262.7 174.5,262.0ZM182.9,263.6 185.3,263.2 188.8,263.9 188.8,264.9 185.3,264.7 183.2,264.7ZM185.8,266.5 187.6,266.5 188.1,268.3 186.3,268.4ZM189.3,265.4 190.9,265.4 192.1,266.7 194.5,266.3 196.8,268.3 195.0,270.0 192.4,270.1 191.7,268.0 189.9,267.3ZM189.3,270.3 190.9,270.0 190.5,271.2ZM197.2,274.1 198.8,273.8 201.1,275.7 204.7,276.2 209.1,281.8 205.2,284.3 200.6,288.5 197.5,286.9 198.0,283.3 196.0,279.7 197.5,276.7Z"/>
<path fill="#a4d4aa" d="M335.5,46.3 341.4,42.3 340.9,43.5 336.2,46.8Z"/>
<path fill="#14501f" fill-opacity="0.75" stroke="none" d="M67.0,173.1 69.8,173.5 69.8,174.3 67.2,174.0ZM71.3,174.3 75.1,174.6 75.1,175.3 71.4,175.1ZM71.4,183.1 72.8,183.1 72.8,184.1 71.5,184.1ZM81.4,182.4 82.4,182.7 83.5,185.2 82.6,185.0ZM79.6,188.1 80.7,188.3 81.4,189.9 80.4,189.7Z"/>
<path fill="#ffffff" stroke="none" d="M60.5,125.0 62.5,124.5 66.3,125.9 63.7,126.4 62.5,125.9 63.5,132.5 62.3,132.7 61.1,128.7ZM83.3,118.2 84.9,118.0 84.9,120.5 83.3,120.8ZM88.4,86.7 89.6,86.7 89.1,89.5 88.0,89.5Z"/>
<path fill="#77ab7f" d="M87.9,11.2 90.3,10.6 91.0,12.7 89.1,13.5Z"/>
<path fill="none" d="M89.5,17.0 84.9,24.0 87.0,28.1 90.0,24.5 91.8,18.6 91.4,14.5"/>
<path fill="none" d="M459.6,152.5 461.8,156.6 464.1,161.2 466.5,164.7 466.1,167.7 463.5,170.0 460.0,171.8"/>
<path fill="#64996c" d="M489.0,90.9 492.2,90.6 492.4,92.0 489.4,92.2ZM494.8,91.1 497.1,90.9 497.3,92.0 495.2,92.2Z"/>
<path fill="none" stroke-width="0.6" d="M442.2,284.7 441.5,288.4 438.1,291.4 433.8,293.1 429.7,294.4 425.6,295.2"/>
<path fill="#4b8254" d="M430.9,292.2 433.7,291.5 433.9,292.3 431.1,293.1Z"/>
<path fill="#ffffff" fill-opacity="0.8" stroke="none" d="M160.7,101.2h1.3v2.4h-1.3Z"/>
</g></svg>
<div class="grid" style="left:181.64px"></div>
<div class="grid" style="left:235.58px"></div>
<div class="grid" style="left:289.52px"></div>
<div class="grid" style="left:343.46px"></div>
<div class="grid" style="left:397.40px"></div>
<div class="grid" style="left:451.34px"></div>
<div class="grid" style="left:505.28px"></div>
<div class="grid" style="left:559.22px"></div>
<div class="grid" style="left:613.16px"></div>
<div class="grid" style="left:667.10px"></div>
<div class="axis" style="left:127.20px"></div>
<div class="bar" style="top:315.20px;width:466.58px"></div>
<div class="val" style="left:602.48px;top:311.10px">17.3%</div>
<div class="bar" style="top:330.86px;width:358.70px"></div>
<div class="val" style="left:494.60px;top:326.76px">13.3%</div>
<div class="bar" style="top:346.53px;width:345.22px"></div>
<div class="val" style="left:481.12px;top:342.43px">12.8%</div>
<div class="bar" style="top:362.19px;width:342.52px"></div>
<div class="val" style="left:478.42px;top:358.09px">12.7%</div>
<div class="bar" style="top:377.86px;width:326.34px"></div>
<div class="val" style="left:462.24px;top:373.76px">12.1%</div>
<div class="bar" style="top:393.52px;width:299.37px"></div>
<div class="val" style="left:435.27px;top:389.42px">11.1%</div>
<div class="bar" style="top:409.18px;width:291.28px"></div>
<div class="val" style="left:427.18px;top:405.08px">10.8%</div>
<div class="bar" style="top:424.85px;width:261.61px"></div>
<div class="val" style="left:397.51px;top:420.75px">9.7%</div>
<div class="bar" style="top:440.51px;width:237.34px"></div>
<div class="val" style="left:373.24px;top:436.41px">8.8%</div>
<div class="bar" style="top:456.18px;width:234.64px"></div>
<div class="val" style="left:370.54px;top:452.08px">8.7%</div>
<div class="bar" style="top:471.84px;width:231.94px"></div>
<div class="val" style="left:367.84px;top:467.74px">8.6%</div>
<div class="bar" style="top:487.50px;width:231.94px"></div>
<div class="val" style="left:367.84px;top:483.40px">8.6%</div>
<div class="bar" style="top:503.17px;width:213.06px"></div>
<div class="val" style="left:348.96px;top:499.07px">7.9%</div>
<div class="bar" style="top:518.83px;width:210.37px"></div>
<div class="val" style="left:346.27px;top:514.73px">7.8%</div>
<div class="bar" style="top:534.50px;width:210.37px"></div>
<div class="val" style="left:346.27px;top:530.40px">7.8%</div>
<div class="bar" style="top:550.16px;width:164.52px"></div>
<div class="val" style="left:300.42px;top:546.06px">6.1%</div>
<div class="bar" style="top:565.82px;width:153.73px"></div>
<div class="val" style="left:289.63px;top:561.72px">5.7%</div>
<div class="bar" style="top:581.49px;width:151.03px"></div>
<div class="val" style="left:286.93px;top:577.39px">5.6%</div>
<div class="bar" style="top:597.15px;width:148.33px"></div>
<div class="val" style="left:284.23px;top:593.05px">5.5%</div>
<div class="bar" style="top:612.82px;width:142.94px"></div>
<div class="val" style="left:278.84px;top:608.72px">5.3%</div>
<div class="bar" style="top:628.48px;width:140.24px"></div>
<div class="val" style="left:276.14px;top:624.38px">5.2%</div>
<div class="bar" style="top:644.14px;width:137.55px"></div>
<div class="val" style="left:273.45px;top:640.04px">5.1%</div>
<div class="bar" style="top:659.81px;width:132.15px"></div>
<div class="val" style="left:268.05px;top:655.71px">4.9%</div>
<div class="bar" style="top:675.47px;width:132.15px"></div>
<div class="val" style="left:268.05px;top:671.37px">4.9%</div>
<div class="bar" style="top:691.14px;width:126.76px"></div>
<div class="val" style="left:262.66px;top:687.04px">4.7%</div>
<div class="bar" style="top:706.80px;width:126.76px"></div>
<div class="val" style="left:262.66px;top:702.70px">4.7%</div>
<div class="bar" style="top:722.46px;width:124.06px"></div>
<div class="val" style="left:259.96px;top:718.36px">4.6%</div>
<div class="bar" style="top:738.13px;width:115.97px"></div>
<div class="val" style="left:251.87px;top:734.03px">4.3%</div>
<div class="bar" style="top:753.79px;width:110.58px"></div>
<div class="val" style="left:246.48px;top:749.69px">4.1%</div>
<div class="bar" style="top:769.46px;width:97.09px"></div>
<div class="val" style="left:232.99px;top:765.36px">3.6%</div>
<div class="bar" style="top:785.12px;width:97.09px"></div>
<div class="val" style="left:232.99px;top:781.02px">3.6%</div>
<div class="bar" style="top:800.78px;width:97.09px"></div>
<div class="val" style="left:232.99px;top:796.68px">3.6%</div>
<div class="bar" style="top:816.45px;width:97.09px"></div>
<div class="val" style="left:232.99px;top:812.35px">3.6%</div>
<div class="bar" style="top:832.11px;width:97.09px"></div>
<div class="val" style="left:232.99px;top:828.01px">3.6%</div>
<div class="bar" style="top:847.78px;width:89.00px"></div>
<div class="val" style="left:224.90px;top:843.68px">3.3%</div>
<div class="bar" style="top:863.44px;width:86.30px"></div>
<div class="val" style="left:219.00px;top:859.34px">3.2%</div>
<div class="bar" style="top:879.10px;width:83.61px"></div>
<div class="val" style="left:216.31px;top:875.00px">3.1%</div>
<div class="bar" style="top:894.77px;width:80.91px"></div>
<div class="val" style="left:216.81px;top:890.67px">3.0%</div>
<div class="bar" style="top:910.43px;width:75.52px"></div>
<div class="val" style="left:211.42px;top:906.33px">2.8%</div>
<div class="bar" style="top:926.10px;width:72.82px"></div>
<div class="val" style="left:208.72px;top:922.00px">2.7%</div>
<div class="bar" style="top:941.76px;width:64.73px"></div>
<div class="val" style="left:200.63px;top:937.66px">2.4%</div>
<div class="bar" style="top:957.42px;width:64.73px"></div>
<div class="val" style="left:200.63px;top:953.32px">2.4%</div>
<div class="bar" style="top:973.09px;width:59.33px"></div>
<div class="val" style="left:195.23px;top:968.99px">2.2%</div>
<div class="bar" style="top:988.75px;width:56.64px"></div>
<div class="val" style="left:192.54px;top:984.65px">2.1%</div>
<div class="bar" style="top:1004.42px;width:56.64px"></div>
<div class="val" style="left:192.54px;top:1000.32px">2.1%</div>
<div class="bar" style="top:1020.08px;width:51.24px"></div>
<div class="val" style="left:187.14px;top:1015.98px">1.9%</div>
<div class="bar" style="top:1035.74px;width:45.85px"></div>
<div class="val" style="left:181.75px;top:1031.64px">1.7%</div>
<div class="bar" style="top:1051.41px;width:40.45px"></div>
<div class="val" style="left:176.35px;top:1047.31px">1.5%</div>
<div class="bar" style="top:1067.07px;width:32.36px"></div>
<div class="val" style="left:168.26px;top:1062.97px">1.2%</div>
<div class="bar" style="top:1082.74px;width:24.27px"></div>
<div class="val" style="left:160.17px;top:1078.64px">0.9%</div>
<div class="bar" style="top:1098.40px;width:18.88px"></div>
<div class="val" style="left:154.78px;top:1094.30px">0.7%</div>
<div class="tick" style="left:124.20px;top:310.40px"></div>
<div class="tick" style="left:124.20px;top:326.06px"></div>
<div class="tick" style="left:124.20px;top:341.73px"></div>
<div class="tick" style="left:124.20px;top:357.39px"></div>
<div class="tick" style="left:124.20px;top:373.06px"></div>
<div class="tick" style="left:124.20px;top:388.72px"></div>
<div class="tick" style="left:124.20px;top:404.38px"></div>
<div class="tick" style="left:124.20px;top:420.05px"></div>
<div class="tick" style="left:124.20px;top:435.71px"></div>
<div class="tick" style="left:124.20px;top:451.38px"></div>
<div class="tick" style="left:124.20px;top:467.04px"></div>
<div class="tick" style="left:124.20px;top:482.70px"></div>
<div class="tick" style="left:124.20px;top:498.37px"></div>
<div class="tick" style="left:124.20px;top:514.03px"></div>
<div class="tick" style="left:124.20px;top:529.70px"></div>
<div class="tick" style="left:124.20px;top:545.36px"></div>
<div class="tick" style="left:124.20px;top:561.02px"></div>
<div class="tick" style="left:124.20px;top:576.69px"></div>
<div class="tick" style="left:124.20px;top:592.35px"></div>
<div class="tick" style="left:124.20px;top:608.02px"></div>
<div class="tick" style="left:124.20px;top:623.68px"></div>
<div class="tick" style="left:124.20px;top:639.34px"></div>
<div class="tick" style="left:124.20px;top:655.01px"></div>
<div class="tick" style="left:124.20px;top:670.67px"></div>
<div class="tick" style="left:124.20px;top:686.34px"></div>
<div class="tick" style="left:124.20px;top:702.00px"></div>
<div class="tick" style="left:124.20px;top:717.66px"></div>
<div class="tick" style="left:124.20px;top:733.33px"></div>
<div class="tick" style="left:124.20px;top:748.99px"></div>
<div class="tick" style="left:124.20px;top:764.66px"></div>
<div class="tick" style="left:124.20px;top:780.32px"></div>
<div class="tick" style="left:124.20px;top:795.98px"></div>
<div class="tick" style="left:124.20px;top:811.65px"></div>
<div class="tick" style="left:124.20px;top:827.31px"></div>
<div class="tick" style="left:124.20px;top:842.98px"></div>
<div class="tick" style="left:124.20px;top:858.64px"></div>
<div class="tick" style="left:124.20px;top:874.30px"></div>
<div class="tick" style="left:124.20px;top:889.97px"></div>
<div class="tick" style="left:124.20px;top:905.63px"></div>
<div class="tick" style="left:124.20px;top:921.30px"></div>
<div class="tick" style="left:124.20px;top:936.96px"></div>
<div class="tick" style="left:124.20px;top:952.62px"></div>
<div class="tick" style="left:124.20px;top:968.29px"></div>
<div class="tick" style="left:124.20px;top:983.95px"></div>
<div class="tick" style="left:124.20px;top:999.62px"></div>
<div class="tick" style="left:124.20px;top:1015.28px"></div>
<div class="tick" style="left:124.20px;top:1030.94px"></div>
<div class="tick" style="left:124.20px;top:1046.61px"></div>
<div class="tick" style="left:124.20px;top:1062.27px"></div>
<div class="tick" style="left:124.20px;top:1077.94px"></div>
<div class="tick" style="left:124.20px;top:1093.60px"></div>
<div class="tick" style="left:124.20px;top:1109.26px"></div>
<div class="lab" style="top:318.20px">California</div>
<div class="lab" style="top:333.86px">New York</div>
<div class="lab" style="top:349.53px">Texas</div>
<div class="lab" style="top:365.19px">New Jersey</div>
<div class="lab" style="top:380.86px">Florida</div>
<div class="lab" style="top:396.52px">Nevada</div>
<div class="lab" style="top:412.18px">Hawaii</div>
<div class="lab" style="top:427.85px">Massachusetts</div>
<div class="lab" style="top:443.51px">Illinois</div>
<div class="lab" style="top:459.18px">New Mexico</div>
<div class="lab" style="top:474.84px">Rhode Island</div>
<div class="lab" style="top:490.50px">Connecticut</div>
<div class="lab" style="top:506.17px">Washington</div>
<div class="lab" style="top:521.83px">Maryland</div>
<div class="lab" style="top:537.50px">Arizona</div>
<div class="lab" style="top:553.16px">Virginia</div>
<div class="lab" style="top:568.82px">Georgia</div>
<div class="lab" style="top:584.49px">Delaware</div>
<div class="lab" style="top:600.15px">Colorado</div>
<div class="lab" style="top:615.82px">Oregon</div>
<div class="lab" style="top:631.48px">Nebraska</div>
<div class="lab" style="top:647.14px">District of Columbia</div>
<div class="lab" style="top:662.81px">Utah</div>
<div class="lab" style="top:678.47px">North Carolina</div>
<div class="lab" style="top:694.14px">Pennsylvania</div>
<div class="lab" style="top:709.80px">Kansas</div>
<div class="lab" style="top:725.46px">Minnesota</div>
<div class="lab" style="top:741.13px">Alaska</div>
<div class="lab" style="top:756.79px">Oklahoma</div>
<div class="lab" style="top:772.46px">Tennessee</div>
<div class="lab" style="top:788.12px">Michigan</div>
<div class="lab" style="top:803.78px">Iowa</div>
<div class="lab" style="top:819.45px">Indiana</div>
<div class="lab" style="top:835.11px">Idaho</div>
<div class="lab" style="top:850.78px">Arkansas</div>
<div class="lab" style="top:866.44px">Louisiana</div>
<div class="lab" style="top:882.10px">Wisconsin</div>
<div class="lab" style="top:897.77px">South Carolina</div>
<div class="lab" style="top:913.43px">Ohio</div>
<div class="lab" style="top:929.10px">Kentucky</div>
<div class="lab" style="top:944.76px">New Hampshire</div>
<div class="lab" style="top:960.42px">Alabama</div>
<div class="lab" style="top:976.09px">Missouri</div>
<div class="lab" style="top:991.75px">South Dakota</div>
<div class="lab" style="top:1007.42px">North Dakota</div>
<div class="lab" style="top:1023.08px">Wyoming</div>
<div class="lab" style="top:1038.74px">Mississippi</div>
<div class="lab" style="top:1054.41px">Maine</div>
<div class="lab" style="top:1070.07px">Vermont</div>
<div class="lab" style="top:1085.74px">Montana</div>
<div class="lab" style="top:1101.40px">West Virginia</div>
<div class="xl" style="left:128.20px">0%</div>
<div class="xl" style="left:182.14px">2%</div>
<div class="xl" style="left:236.08px">4%</div>
<div class="xl" style="left:290.02px">6%</div>
<div class="xl" style="left:343.96px">8%</div>
<div class="xl" style="left:397.90px">10%</div>
<div class="xl" style="left:451.84px">12%</div>
<div class="xl" style="left:505.78px">14%</div>
<div class="xl" style="left:559.72px">16%</div>
<div class="xl" style="left:613.66px">18%</div>
<div class="xl" style="left:667.60px">20%</div>
<div style="position:absolute;left:268.3px;top:1140.4px;width:6.5px;height:6.5px;background:#1d6b2c"></div>
<div class="leg" style="left:280.4px;top:1136.3px">LEP population 5 years and over</div>
<div class="leg" style="left:503.3px;top:115.7px">LEP population 5 years and over</div>
<div style="position:absolute;left:515.5px;top:140px;width:5.5px;height:38.7px;background:linear-gradient(#14501f,#c2f0c8)"></div>
<div class="leg" style="font-size:12px;left:527px;top:134px">17.3%</div>
<div class="leg" style="font-size:12px;left:527px;top:172px">0.7%</div>
<div style="position:absolute;right:111px;top:277.7px;font-size:8.3px;line-height:10.7px;color:#5f5f5f;text-align:right;white-space:nowrap">Powered by Bing<br>© GeoNames, Microsoft, TomTom</div>
</div></body></html>
